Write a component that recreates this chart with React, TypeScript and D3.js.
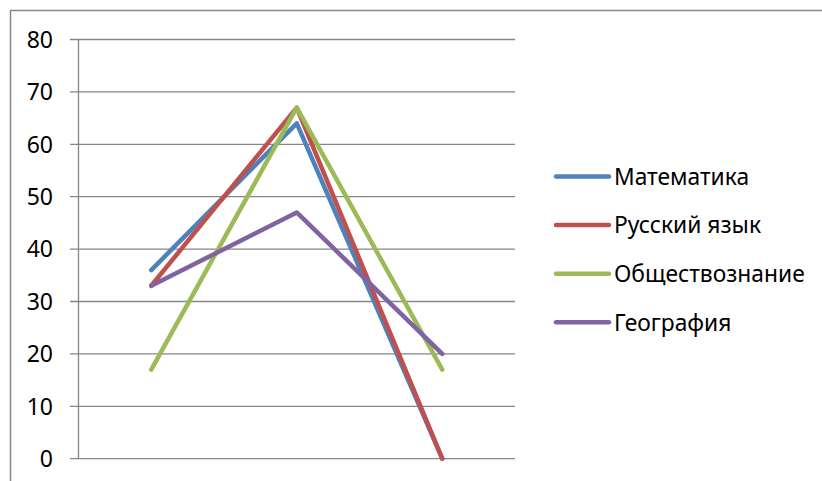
import React from "react";
import * as d3 from "d3";

const categories = ["1", "2", "3"];
const seriesNames = ["Математика", "Русский язык", "Обществознание", "География"];
const mathValues = [36, 64, 0];
const russianValues = [33, 67, 0];
const socialValues = [17, 67, 17];
const geoValues = [33, 47, 20];
const yTicks = [0, 10, 20, 30, 40, 50, 60, 70, 80];
const colors = ["#4F81BD", "#C0504D", "#9BBB59", "#8064A2"];

const seriesValues = [mathValues, russianValues, socialValues, geoValues];

export default function App() {
  const W = 822, H = 481;
  const left = 78.5, right = 515, top = 39.5, bottom = 458.7;
  const x = d3.scaleBand<string>().domain(categories).range([left, right]);
  const y = d3.scaleLinear().domain([0, 80]).range([bottom, top]);
  const line = d3
    .line<number>()
    .x((_, i) => (x(categories[i]) as number) + x.bandwidth() / 2)
    .y((d) => y(d));
  const font = "'Noto Sans', sans-serif";
  return (
    <svg width={W} height={H} style={{ position: "absolute", left: 0, top: 0 }}>
      <rect x={0} y={0} width={W} height={H} fill="#fff" />
      <rect x={10.5} y={10.5} width={W + 20} height={H + 20} fill="none" stroke="#898989" strokeWidth={1.5} />
      {yTicks.map((t) => (
        <g key={t}>
          <line x1={70} x2={right} y1={y(t)} y2={y(t)} stroke="#868686" strokeWidth={1.3} />
          <text x={53} y={y(t)} dy="0.36em" textAnchor="end" fontFamily={font} fontSize={23} fill="#000">
            {t}
          </text>
        </g>
      ))}
      <line x1={left} x2={left} y1={top} y2={bottom} stroke="#868686" strokeWidth={1.3} />
      {seriesValues.map((vals, i) => (
        <path key={i} d={line(vals) || ""} fill="none" stroke={colors[i]} strokeWidth={4.5} strokeLinecap="round" strokeLinejoin="round" />
      ))}
      {seriesNames.map((name, i) => {
        const ly = 176.5 + i * 48.6;
        return (
          <g key={name}>
            <line x1={556} x2={609} y1={ly} y2={ly} stroke={colors[i]} strokeWidth={4.5} strokeLinecap="round" />
            <text x={614} y={ly} dy="0.36em" fontFamily={font} fontSize={22.8} fill="#000">
              {name}
            </text>
          </g>
        );
      })}
    </svg>
  );
}
